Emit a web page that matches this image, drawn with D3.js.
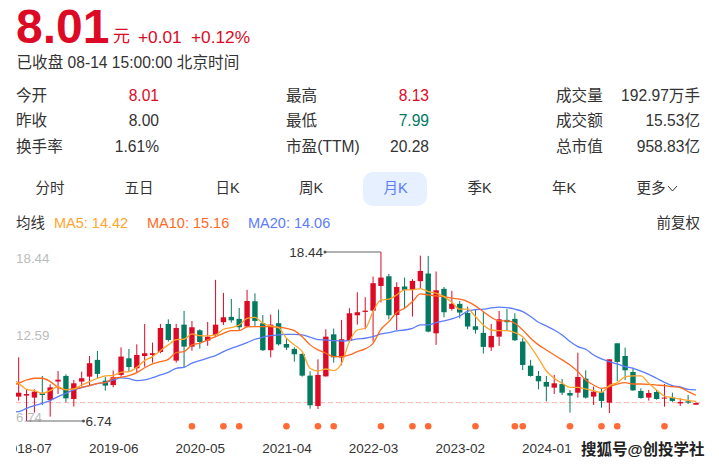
<!DOCTYPE html>
<html>
<head>
<meta charset="utf-8">
<style>
  html, body { margin: 0; padding: 0; background: #fff; }
  svg { display: block; }
  text { font-family: "Liberation Sans", "Noto Sans CJK SC", sans-serif; }
</style>
<script src="https://cdn.jsdelivr.net/npm/d3@7"></script>
</head>
<body>
<svg id="chart" width="719" height="467"></svg>
<script>
var opens = [8.43,8.50,8.36,8.66,8.19,9.47,9.86,8.26,9.47,9.81,10.97,9.53,9.23,9.93,11.08,10.39,11.24,11.31,11.52,13.46,10.92,
  13.41,11.89,13.02,12.31,12.70,13.58,13.95,13.81,13.28,15.03,13.51,11.64,13.51,12.07,11.73,11.38,9.88,7.78,9.83,12.74,11.13,12.31,14.06,
  14.29,14.38,16.09,16.76,14.08,16.05,15.82,16.42,16.95,12.81,15.89,14.50,14.85,14.22,13.30,12.84,11.84,12.58,13.74,13.81,12.24,10.57,9.86,
  9.44,9.05,9.30,8.68,8.70,9.67,8.43,8.73,8.01,12.12,11.24,10.13,8.82,8.36,8.75,8.29,8.36,7.96,8.10,7.87];
var closes = [8.70,8.61,8.77,8.54,9.07,9.60,8.31,9.35,9.70,10.74,10.00,9.19,9.77,11.20,10.48,11.31,11.43,11.43,13.18,12.35,13.18,
  11.89,13.23,12.21,12.58,13.41,13.92,13.71,13.23,15.05,13.67,11.64,13.41,12.05,11.82,11.36,9.88,7.83,9.93,12.58,11.15,12.40,14.20,14.27,
  14.38,16.28,16.67,14.06,16.02,15.82,16.44,17.13,12.93,15.79,14.27,14.85,14.25,13.28,13.05,11.87,12.63,13.78,13.58,12.33,10.62,9.86,9.49,
  9.12,9.35,8.70,8.50,9.79,8.36,8.77,8.13,11.01,10.83,10.25,8.86,8.33,8.68,8.26,8.36,8.13,8.06,8.01,7.99];
var highs = [11.15,8.89,8.93,9.86,9.28,10.20,9.97,9.58,10.16,11.24,11.59,9.81,10.23,11.84,11.73,12.05,13.46,12.17,13.46,13.78,13.46,
  14.36,13.67,13.09,13.60,16.51,15.61,15.19,14.57,15.82,15.58,14.08,14.11,14.45,12.44,11.84,11.43,10.18,11.01,13.09,13.14,13.74,14.55,15.65,
  15.31,16.74,18.44,16.92,16.35,16.67,16.56,18.19,18.17,17.09,16.02,15.75,15.05,14.66,14.45,14.31,13.46,14.36,14.50,14.20,12.47,10.97,10.20,
  9.86,9.93,9.65,8.89,11.47,10.25,9.12,8.96,11.01,12.12,11.82,10.44,9.00,8.89,8.89,9.30,8.70,8.31,8.54,8.03];
var lows = [8.15,6.74,7.32,7.85,7.04,8.61,8.03,7.73,9.12,9.19,9.70,8.84,9.07,9.81,10.16,10.11,10.50,10.78,11.43,12.24,10.78,
  10.46,11.61,11.75,11.94,12.54,13.39,13.55,13.04,13.23,13.32,11.59,11.15,11.96,11.66,10.85,9.81,7.59,7.57,9.81,10.78,10.60,12.24,13.41,
  13.09,12.24,14.94,13.78,13.04,14.55,13.97,15.93,12.88,12.01,13.92,14.38,13.85,13.09,12.79,11.41,11.59,11.94,13.00,12.28,10.27,9.81,8.93,
  8.10,8.61,8.54,7.32,8.36,8.29,7.85,7.66,7.29,9.51,9.58,8.84,8.29,8.15,8.22,7.73,8.06,7.78,7.92,7.85];

// moving averages, first value is one month left of the first candle
var ma5 = [9.70,9.35,8.93,8.84,8.66,8.84,9.12,8.89,8.96,9.23,9.47,9.70,9.86,9.90,10.11,10.16,10.46,10.92,11.20,11.61,12.01,12.37,
  12.40,12.77,12.65,12.63,12.70,13.09,13.21,13.39,13.85,13.92,13.51,13.32,13.21,12.47,12.01,11.54,10.39,10.20,10.34,10.23,10.74,12.24,13.04,
  13.16,14.31,15.12,15.17,15.47,15.82,15.82,15.91,15.70,15.59,15.35,14.96,14.48,14.48,13.97,13.39,13.04,13.00,13.00,12.86,12.58,11.89,11.08,
  10.20,9.70,9.35,9.07,9.07,8.96,8.84,8.73,9.19,9.40,9.79,9.86,9.86,9.35,8.89,8.47,8.36,8.26,8.17,8.10];
var ma10 = [9.23,9.35,9.58,9.70,9.70,9.47,9.07,8.91,8.96,9.07,9.19,9.35,9.40,9.70,9.77,9.88,10.09,10.43,10.69,10.85,11.01,11.47,
  11.54,12.01,12.12,12.35,12.58,12.81,13.00,13.00,13.25,13.28,13.28,13.28,13.23,13.16,13.00,12.58,12.01,11.66,11.43,11.20,11.20,11.31,11.54,
  11.73,12.12,13.09,13.62,14.25,14.55,15.01,15.54,15.47,15.40,15.35,15.24,15.17,15.01,14.71,14.31,13.92,13.67,13.67,13.51,13.04,12.47,12.01,
  11.66,11.31,10.97,10.62,10.16,9.58,9.23,9.00,9.12,9.30,9.40,9.30,9.30,9.28,9.23,9.19,9.12,9.05,8.77,8.52];
var ma20 = [7.36,7.39,7.62,7.80,7.96,8.15,8.43,8.66,8.89,9.05,9.19,9.33,9.40,9.58,9.72,9.67,9.53,9.58,9.74,9.93,10.11,10.39,
  10.46,10.74,10.92,11.10,11.27,11.54,11.77,11.96,12.17,12.40,12.54,12.65,12.70,12.74,12.74,12.70,12.54,12.37,12.35,12.31,12.28,12.31,12.42,
  12.47,12.58,12.77,12.86,12.98,13.04,13.16,13.39,13.39,13.55,13.67,13.81,14.01,14.34,14.45,14.48,14.57,14.62,14.59,14.48,14.31,13.97,13.58,
  13.32,13.04,12.70,12.24,11.89,11.71,11.31,11.04,10.85,10.69,10.50,10.39,10.20,9.97,9.70,9.42,9.19,9.10,8.93,8.89];

var dotIndexes = [22,26,28,34,38,40,46,50,52,58,63,64,70,74,76,82];
var xTickIndexes = [1,12,23,34,45,56,67];
var xTickLabels = ["2018-07","2019-06","2020-05","2021-04","2022-03","2023-02","2024-01"];
var yLabels = ["18.44","12.59","6.74"];
var lastClose = 8.01, maxPrice = 18.44, minPrice = 6.74;

var RED = "#dd0a26", GREEN = "#03795f", DARK = "#333";
var MA_COLORS = ["#fda52e", "#ff6a1f", "#5c7cfc"];

var svg = d3.select("#chart");

var x = d3.scaleLinear().domain([0, 86]).range([18.67, 696]);
var y = d3.scaleLinear().domain([minPrice, maxPrice]).range([421, 252]);

function label(txt, px, py, size, fill, anchor, weight) {
  return svg.append("text")
    .attr("x", px).attr("y", py)
    .attr("font-size", size)
    .attr("fill", fill)
    .attr("text-anchor", anchor || "start")
    .attr("font-weight", weight || "normal")
    .attr("dominant-baseline", "central")
    .text(txt);
}

// header
label("8.01", 16, 26, 48, RED, "start", "bold");
label("元", 113, 36, 17, RED);
label("+0.01", 138, 36.5, 17.3, RED);
label("+0.12%", 191, 36.5, 17.3, RED);
label("已收盘 08-14 15:00:00 北京时间", 16.5, 62.5, 15.6, DARK);

// quote table
var rowY = [95, 120, 146];
var quoteCols = [
  {labelX: 16, valueX: 159, labels: ["今开", "昨收", "换手率"], values: ["8.01", "8.00", "1.61%"], colors: [RED, DARK, DARK]},
  {labelX: 286, valueX: 429, labels: ["最高", "最低", "市盈(TTM)"], values: ["8.13", "7.99", "20.28"], colors: [RED, GREEN, DARK]},
  {labelX: 556, valueX: 700, labels: ["成交量", "成交额", "总市值"], values: ["192.97万手", "15.53亿", "958.83亿"], colors: [DARK, DARK, DARK]}
];
quoteCols.forEach(function(c) {
  rowY.forEach(function(py, i) {
    label(c.labels[i], c.labelX, py, 15.6, DARK);
    label(c.values[i], c.valueX, py, 15.6, c.colors[i], "end");
  });
});

// period tabs
svg.append("rect").attr("x", 363).attr("y", 172).attr("width", 64).attr("height", 34)
  .attr("rx", 10).attr("fill", "#e6f0ff");
var tabNames = ["分时", "五日", "日K", "周K", "月K", "季K", "年K", "更多"];
var tabCenters = [50, 139, 227.5, 311, 395.5, 479.5, 564, 651];
tabNames.forEach(function(t, i) {
  label(t, tabCenters[i], 188, 14.5, t == "月K" ? "#5c7cfc" : DARK, "middle");
});
svg.append("path").attr("d", "M668 186 L672.5 191 L677 186")
  .attr("fill", "none").attr("stroke", DARK).attr("stroke-width", 1);

// legend row
label("均线", 16, 222.5, 14.5, DARK);
label("MA5: 14.42", 54, 222.5, 14.5, MA_COLORS[0]);
label("MA10: 15.16", 147, 222.5, 14.5, MA_COLORS[1]);
label("MA20: 14.06", 248, 222.5, 14.5, MA_COLORS[2]);
label("前复权", 700, 222.5, 14.5, DARK, "end");

// plot area, everything left of x=16 is cut off
svg.append("clipPath").attr("id", "plotClip").append("rect")
  .attr("x", 16).attr("y", 240).attr("width", 690).attr("height", 227);
var plot = svg.append("g").attr("clip-path", "url(#plotClip)");

// y labels
var yLabelY = [258, 335, 417.5];
yLabels.forEach(function(t, i) {
  plot.append("text").attr("x", 16).attr("y", yLabelY[i]).attr("font-size", 13.4)
    .attr("dominant-baseline", "central").attr("fill", "#bcbcbc").text(t);
});

// last close line
plot.append("line")
  .attr("x1", 16).attr("x2", 700)
  .attr("y1", y(lastClose)).attr("y2", y(lastClose))
  .attr("stroke", "#ffb3b3").attr("stroke-width", 1).attr("stroke-dasharray", "5,3");

// candles
var candles = opens.map(function(o, i) {
  return {i: i, o: o, c: closes[i], h: highs[i], l: lows[i]};
});
function candleColor(d) { return d.c >= d.o ? RED : GREEN; }

plot.selectAll("line.wick").data(candles).enter().append("line")
  .attr("class", "wick")
  .attr("x1", function(d) { return x(d.i); })
  .attr("x2", function(d) { return x(d.i); })
  .attr("y1", function(d) { return y(d.h); })
  .attr("y2", function(d) { return y(d.l); })
  .attr("stroke", candleColor)
  .attr("stroke-width", 1);

plot.selectAll("rect.body").data(candles).enter().append("rect")
  .attr("class", "body")
  .attr("x", function(d) { return x(d.i) - 2.7; })
  .attr("width", 5.4)
  .attr("y", function(d) { return y(Math.max(d.o, d.c)); })
  .attr("height", function(d) { return Math.max(1, Math.abs(y(d.o) - y(d.c))); })
  .attr("fill", candleColor);

// moving averages
var maLine = d3.line()
  .x(function(d, i) { return x(i - 1); })
  .y(function(d) { return y(d); })
  .curve(d3.curveMonotoneX);
[ma20, ma10, ma5].forEach(function(s, k) {
  plot.append("path").attr("d", maLine(s))
    .attr("fill", "none")
    .attr("stroke", MA_COLORS[2 - k])
    .attr("stroke-width", 1.3);
});

// signal dots under the candles
plot.selectAll("circle.signal").data(dotIndexes).enter().append("circle")
  .attr("class", "signal")
  .attr("cx", function(i) { return x(i); })
  .attr("cy", 426.3)
  .attr("r", 3.3)
  .attr("fill", "#ff6a36");

// x axis labels
var xAxis = d3.axisBottom(x)
  .tickValues(xTickIndexes)
  .tickFormat(function(d, i) { return xTickLabels[i]; })
  .tickSize(0);
var axisG = plot.append("g").attr("transform", "translate(0,435)").call(xAxis);
axisG.select(".domain").remove();
axisG.selectAll("text")
  .attr("font-size", 13.5)
  .attr("fill", DARK)
  .attr("y", 13)
  .attr("dy", 0)
  .attr("dominant-baseline", "central");
axisG.attr("font-family", null);

// high and low marks
function leader(value, idx, textX, anchor, txt) {
  var py = y(value);
  svg.append("line").attr("x1", textX + (anchor == "end" ? 2 : -2)).attr("x2", x(idx))
    .attr("y1", py).attr("y2", py).attr("stroke", "#666").attr("stroke-width", 1);
  svg.append("circle").attr("cx", textX + (anchor == "end" ? 2 : -2)).attr("cy", py).attr("r", 1.5).attr("fill", "#555");
  label(txt, textX, py, 13.5, DARK, anchor);
}
leader(maxPrice, 46, 323, "end", "18.44");
leader(minPrice, 1, 85.5, "start", "6.74");

// watermark
svg.append("text")
  .attr("x", 581).attr("y", 449.5)
  .attr("font-size", 15.5)
  .attr("font-weight", "bold")
  .attr("dominant-baseline", "central")
  .attr("fill", "#222")
  .attr("stroke", "#fff").attr("stroke-width", 2.5).attr("paint-order", "stroke")
  .text("搜狐号@创投学社");
</script>
</body>
</html>
